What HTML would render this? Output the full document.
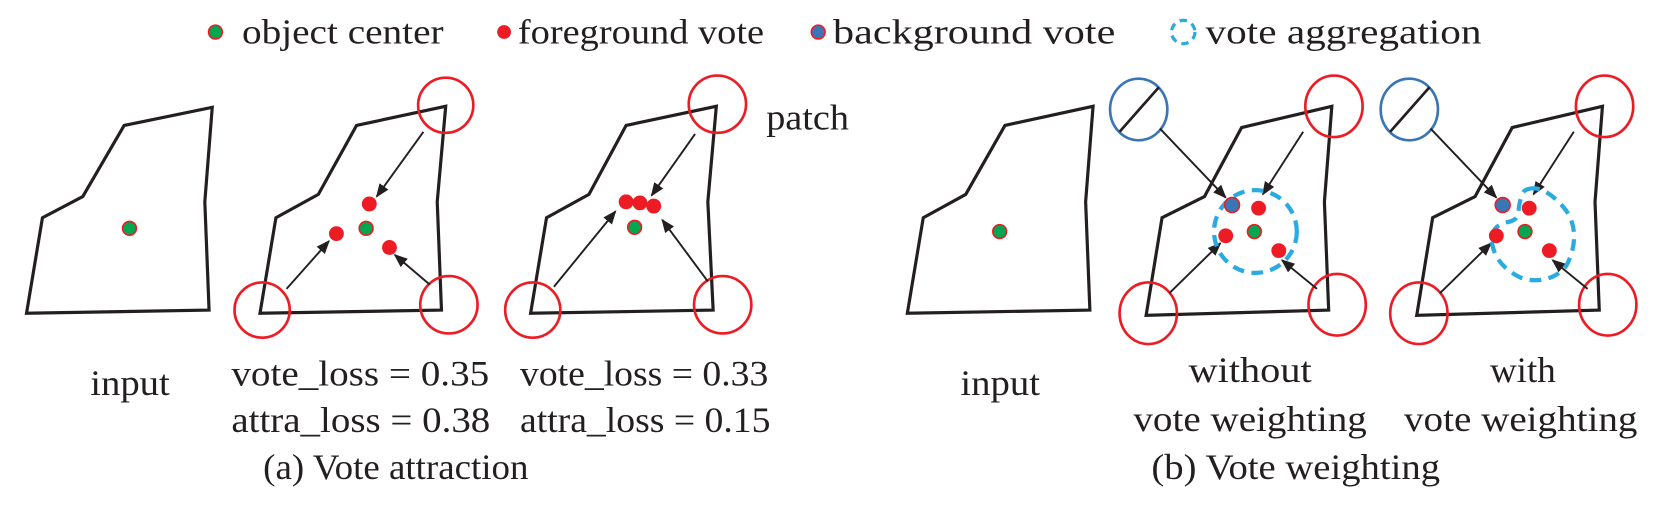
<!DOCTYPE html>
<html><head><meta charset="utf-8"><style>
html,body{margin:0;padding:0;background:#fff;}
svg{display:block;}
text{font-family:"Liberation Serif",serif;fill:#231f20;}
</style></head><body>
<svg width="1664" height="514" viewBox="0 0 1568 484" xmlns="http://www.w3.org/2000/svg">
<defs>
<marker id="a2" viewBox="0 0 10 10" refX="9" refY="5" markerWidth="13" markerHeight="13" orient="auto" markerUnits="userSpaceOnUse">
<path d="M0,1 L10,5 L0,9 z" fill="#231f20"/></marker>
</defs>
<!-- legend -->
<circle cx="203" cy="30" r="6.5" fill="#00a650" stroke="#ed1c24" stroke-width="1.5"/>
<text x="228" y="41" font-size="33" textLength="190" lengthAdjust="spacingAndGlyphs">object center</text>
<circle cx="475" cy="30" r="6.5" fill="#ed1c24"/>
<text x="488" y="41" font-size="33" textLength="232" lengthAdjust="spacingAndGlyphs">foreground vote</text>
<circle cx="771" cy="30" r="6.5" fill="#3a75b6" stroke="#ed1c24" stroke-width="1.5"/>
<text x="785" y="41" font-size="33" textLength="266" lengthAdjust="spacingAndGlyphs">background vote</text>
<circle cx="1115" cy="30" r="11" fill="none" stroke="#29abe2" stroke-width="3" stroke-dasharray="7,5"/>
<text x="1136" y="41" font-size="33" textLength="260" lengthAdjust="spacingAndGlyphs">vote aggregation</text>

<g fill="none" stroke="#231f20" stroke-width="3">
<polygon points="25,295 40,205 78,185 117,118 200,101 193,190 197,292"/>
<polygon points="245,295 260,205 300,183 336,118 420,100 412,190 416,292"/>
<polygon points="500,295 515,205 555,183 590,118 675,100 667,190 672,292"/>
<polygon points="855,295 870,205 910,183 947,118 1030,100 1023,190 1027,292"/>
<polygon points="1080,297 1095,205 1135,185 1170,120 1255,100 1248,190 1252,292"/>
<polygon points="1335,297 1350,205 1390,185 1425,120 1510,100 1503,190 1507,292"/>
</g>

<g fill="none" stroke="#ed1c24" stroke-width="2.5">
<circle cx="420" cy="99" r="26"/><circle cx="247" cy="292" r="26"/><circle cx="423" cy="287" r="27"/>
<circle cx="676" cy="98" r="27"/><circle cx="502" cy="292" r="26"/><circle cx="681" cy="287" r="27"/>
<ellipse cx="1257" cy="100" rx="27" ry="29"/><ellipse cx="1082" cy="295" rx="27" ry="29"/><ellipse cx="1260" cy="287" rx="27" ry="29"/>
<ellipse cx="1512" cy="100" rx="27" ry="29"/><ellipse cx="1337" cy="295" rx="27" ry="29"/><ellipse cx="1515" cy="287" rx="27" ry="29"/>
</g>
<g fill="none" stroke="#3a75b6" stroke-width="2.5">
<ellipse cx="1073" cy="103" rx="27" ry="29"/><ellipse cx="1328" cy="103" rx="27" ry="29"/>
</g>
<g stroke="#231f20" stroke-width="2.5">
<line x1="1055" y1="124" x2="1092" y2="82"/><line x1="1310" y1="124" x2="1347" y2="82"/>
</g>

<g stroke="#231f20" stroke-width="1.8" marker-end="url(#a2)">
<line x1="399" y1="124" x2="355" y2="185"/>
<line x1="270" y1="272" x2="310" y2="227"/>
<line x1="405" y1="268" x2="372" y2="240"/>
<line x1="655" y1="126" x2="614" y2="184"/>
<line x1="522" y1="270" x2="580" y2="199"/>
<line x1="667" y1="265" x2="624" y2="207"/>
<line x1="1093" y1="121" x2="1155" y2="186"/>
<line x1="1228" y1="124" x2="1190" y2="183"/>
<line x1="1102" y1="276" x2="1150" y2="229"/>
<line x1="1241" y1="272" x2="1208" y2="245"/>
<line x1="1348" y1="121" x2="1410" y2="186"/>
<line x1="1483" y1="124" x2="1445" y2="183"/>
<line x1="1357" y1="276" x2="1405" y2="229"/>
<line x1="1496" y1="272" x2="1463" y2="245"/>
</g>

<circle cx="1183" cy="218" r="39" fill="none" stroke="#29abe2" stroke-width="4" stroke-dasharray="11,7"/>
<path d="M1440,178 C1452,174 1466,186 1474,196 C1486,210 1486,232 1476,250 C1466,264 1446,267 1432,261 C1416,253 1408,242 1406,229 C1404,218 1410,211 1421,209 C1432,207 1430,201 1432,191 C1434,183 1435,179 1440,178 Z" fill="none" stroke="#29abe2" stroke-width="4" stroke-dasharray="11,7"/>

<g fill="#ed1c24">
<circle cx="348" cy="192" r="7"/><circle cx="317" cy="220" r="7"/><circle cx="367" cy="233" r="7"/>
<circle cx="590" cy="190" r="7"/><circle cx="603" cy="191" r="7"/><circle cx="616" cy="194" r="7"/>
<circle cx="1186" cy="196" r="7"/><circle cx="1155" cy="222" r="7"/><circle cx="1205" cy="236" r="7"/>
<circle cx="1441" cy="196" r="7"/><circle cx="1410" cy="222" r="7"/><circle cx="1460" cy="236" r="7"/>
</g>
<g fill="#00a650" stroke="#ed1c24" stroke-width="1.5">
<circle cx="122" cy="215" r="6.5"/><circle cx="345" cy="215" r="6.5"/><circle cx="598" cy="214" r="6.5"/>
<circle cx="942" cy="218" r="6.5"/><circle cx="1182" cy="218" r="6.5"/><circle cx="1437" cy="218" r="6.5"/>
</g>
<g fill="#3a75b6" stroke="#ed1c24" stroke-width="1.5">
<circle cx="1161" cy="193" r="7"/><circle cx="1416" cy="193" r="7"/>
</g>

<text x="722" y="122" font-size="34" textLength="78" lengthAdjust="spacingAndGlyphs">patch</text>
<text x="85" y="372" font-size="34" textLength="75" lengthAdjust="spacingAndGlyphs">input</text>
<text x="905" y="372" font-size="34" textLength="75" lengthAdjust="spacingAndGlyphs">input</text>
<text x="218" y="363" font-size="34" textLength="243" lengthAdjust="spacingAndGlyphs">vote_loss = 0.35</text>
<text x="218" y="407" font-size="34" textLength="244" lengthAdjust="spacingAndGlyphs">attra_loss = 0.38</text>
<text x="490" y="363" font-size="34" textLength="234" lengthAdjust="spacingAndGlyphs">vote_loss = 0.33</text>
<text x="490" y="407" font-size="34" textLength="236" lengthAdjust="spacingAndGlyphs">attra_loss = 0.15</text>
<text x="248" y="451" font-size="34" textLength="250" lengthAdjust="spacingAndGlyphs">(a) Vote attraction</text>
<text x="1120" y="360" font-size="34" textLength="116" lengthAdjust="spacingAndGlyphs">without</text>
<text x="1068" y="406" font-size="34" textLength="220" lengthAdjust="spacingAndGlyphs">vote weighting</text>
<text x="1404" y="360" font-size="34" textLength="62" lengthAdjust="spacingAndGlyphs">with</text>
<text x="1323" y="406" font-size="34" textLength="220" lengthAdjust="spacingAndGlyphs">vote weighting</text>
<text x="1085" y="451" font-size="34" textLength="272" lengthAdjust="spacingAndGlyphs">(b) Vote weighting</text>
</svg>
</body></html>
